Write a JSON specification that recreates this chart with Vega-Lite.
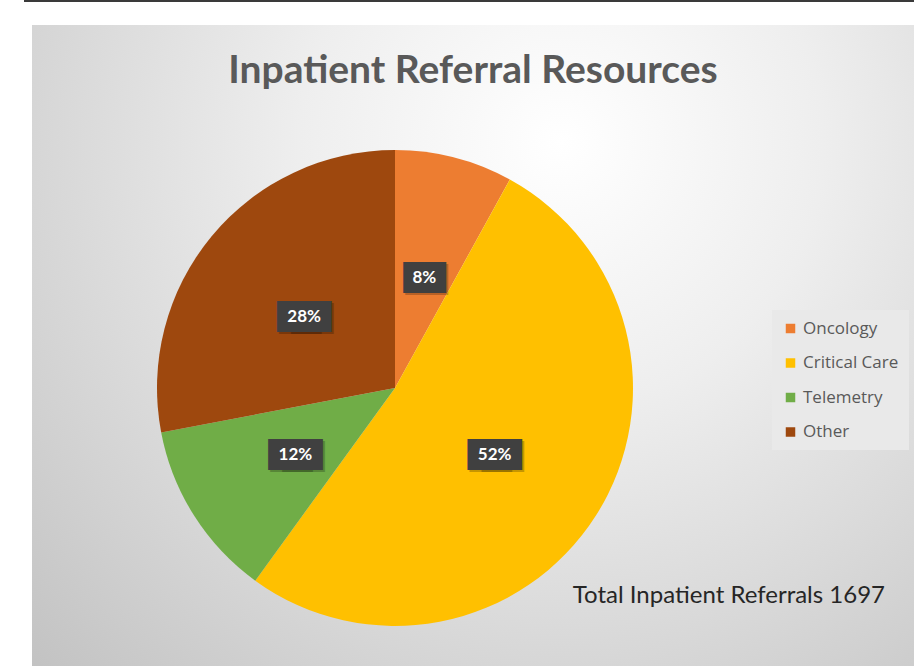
{
  "$schema": "https://vega.github.io/schema/vega-lite/v6.json",
  "width": 882,
  "height": 641,
  "autosize": {"type": "none"},
  "padding": {"left": 32, "top": 25, "right": 0, "bottom": 0},
  "background": "#ffffff",
  "config": {"view": {"stroke": null}, "font": "Lato"},
  "title": {
    "text": "Inpatient Referral Resources",
    "anchor": "middle",
    "frame": "group",
    "font": "Lato",
    "fontSize": 39,
    "fontWeight": "bold",
    "color": "#595959",
    "offset": -91
  },
  "data": {
    "values": [
      {"category": "Oncology", "count": 136},
      {"category": "Critical Care", "count": 882},
      {"category": "Telemetry", "count": 204},
      {"category": "Other", "count": 475}
    ]
  },
  "transform": [
    {"joinaggregate": [{"op": "sum", "field": "count", "as": "total"}]},
    {"calculate": "datum.count / datum.total", "as": "share"},
    {"calculate": "indexof(['Oncology','Critical Care','Telemetry','Other'], datum.category)", "as": "rank"},
    {"calculate": "format(datum.share, '.0%')", "as": "label"},
    {"calculate": "length(datum.label) > 2", "as": "wide"}
  ],
  "layer": [
    {
      "data": {"values": [{"bg": 1}]},
      "transform": [],
      "mark": {
        "type": "rect",
        "fill": {
          "gradient": "radial",
          "x1": 0.6, "y1": 0.27, "r1": 0,
          "x2": 0.6, "y2": 0.27, "r2": 0.85,
          "stops": [
            {"offset": 0, "color": "#ffffff"},
            {"offset": 0.35, "color": "#eeeeee"},
            {"offset": 1, "color": "#c2c2c2"}
          ]
        }
      },
      "encoding": {}
    },
    {
      "data": {"values": [{"line": 1}]},
      "transform": [],
      "mark": {"type": "rule", "color": "#3a3a3a", "strokeWidth": 2},
      "encoding": {
        "x": {"value": -8},
        "x2": {"value": 882},
        "y": {"value": -24}
      }
    },
    {
      "mark": {"type": "arc", "outerRadius": 238, "x": {"expr": "width/2 - 78"}, "y": {"expr": "height/2 + 42.5"}},
      "encoding": {
        "theta": {"field": "count", "type": "quantitative", "stack": true},
        "order": {"field": "rank", "type": "quantitative"},
        "color": {
          "field": "category",
          "type": "nominal",
          "sort": ["Oncology", "Critical Care", "Telemetry", "Other"],
          "scale": {
            "domain": ["Oncology", "Critical Care", "Telemetry", "Other"],
            "range": ["#ED7D31", "#FFC000", "#70AD47", "#9E480E"]
          },
          "legend": {
            "title": null,
            "orient": "none",
            "legendX": 740,
            "legendY": 285,
            "padding": 10,
            "fillColor": "#e9e9e9",
            "symbolType": "square",
            "symbolSize": 90,
            "symbolStrokeWidth": 0,
            "labelFont": "Open Sans",
            "labelFontSize": 17,
            "labelColor": "#595959",
            "rowPadding": 16.5,
            "labelOffset": 4
          }
        }
      }
    },
    {
      "mark": {"type": "text", "font": "DejaVu Sans Mono", "fontSize": 35, "color": "#000000", "opacity": 0.22, "align": "center", "baseline": "middle", "dx": 2, "dy": 1, "radius": 118, "x": {"expr": "width/2 - 78"}, "y": {"expr": "height/2 + 42.5"}},
      "encoding": {
        "theta": {"field": "count", "type": "quantitative", "stack": true},
        "order": {"field": "rank", "type": "quantitative"},
        "detail": {"field": "category", "type": "nominal"},
        "text": {"condition": {"test": "!datum.wide", "value": "▆▆"}, "value": ""}
      }
    },
    {
      "mark": {"type": "text", "font": "DejaVu Sans Mono", "fontSize": 35, "color": "#000000", "opacity": 0.22, "align": "center", "baseline": "middle", "dx": -4, "dy": 1, "radius": 118, "x": {"expr": "width/2 - 78"}, "y": {"expr": "height/2 + 42.5"}},
      "encoding": {
        "theta": {"field": "count", "type": "quantitative", "stack": true},
        "order": {"field": "rank", "type": "quantitative"},
        "detail": {"field": "category", "type": "nominal"},
        "text": {"condition": {"test": "datum.wide", "value": "▆▆"}, "value": ""}
      }
    },
    {
      "mark": {"type": "text", "font": "DejaVu Sans Mono", "fontSize": 35, "color": "#000000", "opacity": 0.22, "align": "center", "baseline": "middle", "dx": 8, "dy": 1, "radius": 118, "x": {"expr": "width/2 - 78"}, "y": {"expr": "height/2 + 42.5"}},
      "encoding": {
        "theta": {"field": "count", "type": "quantitative", "stack": true},
        "order": {"field": "rank", "type": "quantitative"},
        "detail": {"field": "category", "type": "nominal"},
        "text": {"condition": {"test": "datum.wide", "value": "▆▆"}, "value": ""}
      }
    },
    {
      "mark": {"type": "text", "font": "DejaVu Sans Mono", "fontSize": 35, "color": "#404040", "align": "center", "baseline": "middle", "dy": -1, "radius": 118, "x": {"expr": "width/2 - 78"}, "y": {"expr": "height/2 + 42.5"}},
      "encoding": {
        "theta": {"field": "count", "type": "quantitative", "stack": true},
        "order": {"field": "rank", "type": "quantitative"},
        "detail": {"field": "category", "type": "nominal"},
        "text": {"condition": {"test": "!datum.wide", "value": "▆▆"}, "value": ""}
      }
    },
    {
      "mark": {"type": "text", "font": "DejaVu Sans Mono", "fontSize": 35, "color": "#404040", "align": "center", "baseline": "middle", "dx": -6, "dy": -1, "radius": 118, "x": {"expr": "width/2 - 78"}, "y": {"expr": "height/2 + 42.5"}},
      "encoding": {
        "theta": {"field": "count", "type": "quantitative", "stack": true},
        "order": {"field": "rank", "type": "quantitative"},
        "detail": {"field": "category", "type": "nominal"},
        "text": {"condition": {"test": "datum.wide", "value": "▆▆"}, "value": ""}
      }
    },
    {
      "mark": {"type": "text", "font": "DejaVu Sans Mono", "fontSize": 35, "color": "#404040", "align": "center", "baseline": "middle", "dx": 6, "dy": -1, "radius": 118, "x": {"expr": "width/2 - 78"}, "y": {"expr": "height/2 + 42.5"}},
      "encoding": {
        "theta": {"field": "count", "type": "quantitative", "stack": true},
        "order": {"field": "rank", "type": "quantitative"},
        "detail": {"field": "category", "type": "nominal"},
        "text": {"condition": {"test": "datum.wide", "value": "▆▆"}, "value": ""}
      }
    },
    {
      "mark": {"type": "text", "font": "Lato", "fontSize": 17, "fontWeight": "bold", "color": "#ffffff", "align": "center", "baseline": "middle", "dy": 4, "radius": 118, "x": {"expr": "width/2 - 78"}, "y": {"expr": "height/2 + 42.5"}},
      "encoding": {
        "theta": {"field": "count", "type": "quantitative", "stack": true},
        "order": {"field": "rank", "type": "quantitative"},
        "detail": {"field": "category", "type": "nominal"},
        "text": {"field": "label", "type": "nominal"}
      }
    },
    {
      "transform": [
        {"aggregate": [{"op": "sum", "field": "count", "as": "grand"}]},
        {"calculate": "'Total Inpatient Referrals ' + datum.grand", "as": "note"}
      ],
      "mark": {"type": "text", "font": "Lato", "fontSize": 24, "color": "#262626", "align": "right", "baseline": "alphabetic", "x": {"expr": "width - 29"}, "y": {"expr": "height - 63"}},
      "encoding": {"text": {"field": "note", "type": "nominal"}}
    }
  ]
}
